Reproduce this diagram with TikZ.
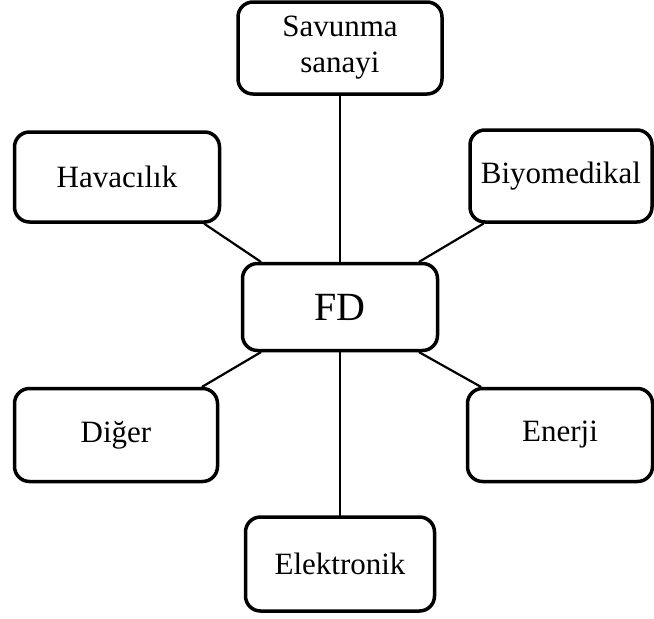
\documentclass[tikz,border=0pt]{standalone}
\usepackage{fontspec}
\setmainfont{Liberation Serif}
\usetikzlibrary{calc}
\tikzset{
 fdmap/.style={line cap=round,line join=round},
 field/.style={draw=black,fill=white,line width=3.5pt,rounded corners=15pt,
   inner sep=0pt,align=center,font=\fontsize{31}{36}\selectfont},
 hub/.style={field,font=\fontsize{40}{44}\selectfont},
 link/.style={draw=black,line width=2.2pt}
}
\begin{document}
\begin{tikzpicture}[fdmap,x=1pt,y=-1pt]
 \useasboundingbox (0,0) rectangle (654,619);
 % center and branches
 \node[hub,minimum width=195pt,minimum height=87pt] (fd) at (340,307) {FD};
 \node[field,minimum width=204pt,minimum height=92pt] (sav) at (340,48) {Savunma\\sanayi};
 \node[field,minimum width=205pt,minimum height=90pt] (hav) at (117,177) {Havacılık};
 \node[field,minimum width=182pt,minimum height=92pt] (bio) at (561,176) {Biyomedikal};
 \node[field,minimum width=203pt,minimum height=93pt] (dig) at (116,435) {Diğer};
 \node[field,minimum width=185pt,minimum height=93pt] (ene) at (560,435) {Enerji};
 \node[field,minimum width=189pt,minimum height=94pt] (ele) at (340,564) {Elektronik};
 % connectors
 \draw[link] (sav.south) -- (fd.north);
 \draw[link] (ele.north) -- (fd.south);
 \draw[link] ($(hav.south east)+(-17,0)$) -- ($(fd.north west)+(20,0)$);
 \draw[link] ($(bio.south west)+(15,0)$) -- ($(fd.north east)+(-20,0)$);
 \draw[link] ($(dig.north east)+(-17,0)$) -- ($(fd.south west)+(20,0)$);
 \draw[link] ($(ene.north west)+(15,0)$) -- ($(fd.south east)+(-20,0)$);
\end{tikzpicture}
\end{document}
